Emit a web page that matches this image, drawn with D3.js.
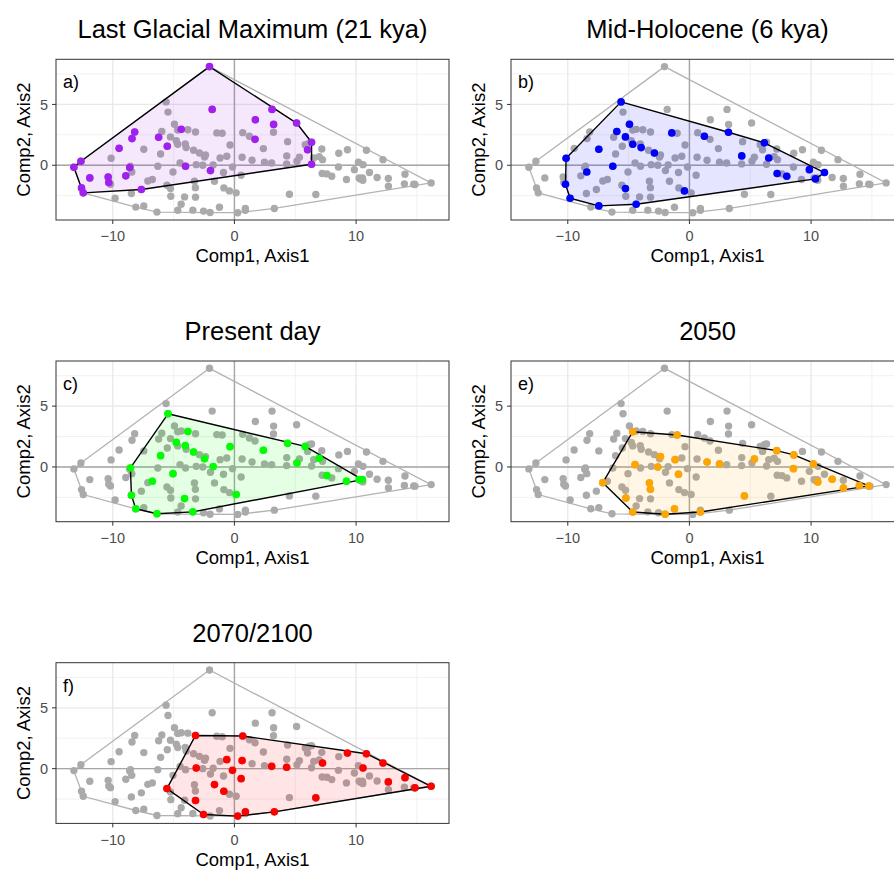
<!DOCTYPE html>
<html>
<head>
<meta charset="utf-8">
<script src="https://cdn.jsdelivr.net/npm/d3@7"></script>
<style>
  body { margin: 0; background: #fff; }
  svg { display: block; }
  text { font-family: "Liberation Sans", Arial, Helvetica, sans-serif; }
</style>
</head>
<body>
<svg id="chart" width="894" height="871"></svg>
<script>
// Site scores on the first two ordination axes, one array per period
const lgm = [
  [-2.05, 8.11], [-1.83, 4.59], [3.09, 4.59], [1.72, 3.74], [3.22, 3.36], [5.11, 3.47],
  [-4.37, 2.95], [-8.20, 2.73], [-8.42, 2.19], [-6.23, 2.30], [1.69, 2.13], [6.34, 1.89],
  [-5.52, 1.56], [-9.48, 1.39], [6.01, 1.28], [-12.62, 0.33], [-13.20, -0.16], [-4.02, -0.08],
  [-8.61, -0.19], [6.34, 0.08], [-1.97, -0.44], [-11.89, -1.04], [-10.38, -0.96], [-10.33, -1.42],
  [-8.93, -0.87], [-12.57, -1.86], [-12.43, -2.27], [-7.65, -1.99]
];
const midHolocene = [
  [-5.62, 5.21], [-4.93, 3.37], [-5.97, 2.77], [-5.26, 2.33], [-4.66, 1.73], [-3.97, 1.45],
  [-2.88, 1.01], [-7.45, 1.32], [-1.45, 2.66], [1.23, 2.38], [3.21, 2.71], [6.16, 1.84],
  [4.30, 0.77], [6.52, 0.60], [-10.14, 0.58], [-6.30, -0.08], [-8.44, -0.55], [-10.19, -1.56],
  [-9.81, -2.71], [-7.45, -3.34], [-4.38, -3.21], [-5.26, -1.92], [-0.41, -2.11], [7.21, -0.68],
  [8.00, -0.90], [9.86, -0.36], [11.10, -0.60], [10.36, -1.12]
];
const present = [
  [-5.46, 4.37], [-3.83, 2.92], [-4.78, 2.02], [-4.04, 1.75], [-3.36, 1.23], [-2.46, 0.68],
  [-1.75, 0.03], [-6.07, 0.93], [-0.36, 1.67], [2.38, 1.37], [4.37, 1.94], [5.82, 1.69],
  [6.97, 0.71], [5.14, 0.33], [-8.55, -0.08], [-5.05, -0.55], [-6.75, -1.17], [7.60, -0.71],
  [9.21, -1.17], [10.25, -1.04], [10.52, -1.04], [-8.47, -2.32], [-8.11, -3.44], [-6.37, -3.85],
  [-3.42, -3.69], [-4.10, -2.60], [0.14, -2.27]
];
const y2050 = [
  [-4.66, 2.90], [-1.01, 2.63], [7.18, 1.34], [8.58, 0.99], [10.19, 0.25], [8.55, -0.14],
  [5.34, 0.66], [1.45, 0.41], [2.47, 0.25], [-2.38, 0.85], [-1.18, 0.60], [-2.60, 0.00],
  [-4.47, 0.19], [-0.90, -0.60], [-3.29, -1.32], [-3.21, -1.84], [-7.12, -1.29], [-5.23, -2.55],
  [-4.66, -3.70], [-2.00, -3.89], [-1.23, -3.45], [0.90, -3.70], [4.52, -2.38], [10.55, -1.23],
  [11.73, -1.01], [12.66, -1.73], [13.97, -1.53], [14.74, -1.56]
];
const y2070 = [
  [-3.20, 2.73], [0.68, 2.68], [9.29, 1.28], [10.85, 1.23], [12.21, 0.46], [10.57, 0.05],
  [7.24, 0.46], [4.29, 0.11], [3.06, 0.19], [0.63, 0.66], [-0.63, 0.74], [-3.14, 0.05],
  [-0.16, -0.14], [0.55, -0.82], [-1.64, -1.31], [-0.87, -1.86], [-5.55, -1.64], [-3.20, -2.62],
  [-2.54, -3.77], [0.27, -3.90], [0.90, -3.55], [3.28, -3.55], [6.69, -2.40], [12.65, -1.09],
  [14.02, -0.74], [14.84, -1.58], [16.17, -1.45]
];

const titles = ["Last Glacial Maximum (21 kya)", "Mid-Holocene (6 kya)", "Present day", "2050", "2070/2100"];
const tags = ["a)", "b)", "c)", "e)", "f)"];
const colors = ["#A020F0", "#0000FF", "#00FF00", "#FFA500", "#FF0000"];
const xTicks = [-10, 0, 10];
const yTicks = [0, 5];
const xMinor = [-15, -5, 5, 15];
const yMinor = [-2.5, 2.5, 7.5];
const xLabel = "Comp1, Axis1";
const yLabel = "Comp2, Axis2";

const series = [lgm, midHolocene, present, y2050, y2070];
const allSites = series.flat();

// Panel geometry (fixed aspect, shared scales)
const W = 393, H = 160.7;
const origins = [[56, 59.3], [511, 59.3], [56, 361], [511, 361], [56, 662.7]];

const pad = ext => { const d = ext[1] - ext[0]; return [ext[0] - 0.05 * d, ext[1] + 0.05 * d]; };
const x = d3.scaleLinear().domain(pad(d3.extent(allSites, d => d[0]))).range([0, W]);
const y = d3.scaleLinear().domain(pad(d3.extent(allSites, d => d[1]))).range([H, 0]);
const inX = v => v >= x.domain()[0] && v <= x.domain()[1];
const inY = v => v >= y.domain()[0] && v <= y.domain()[1];

const svg = d3.select("#chart");
const hullPath = pts => "M" + d3.polygonHull(pts).map(p => [x(p[0]), y(p[1])].join(",")).join("L") + "Z";
const allHull = hullPath(allSites);

series.forEach((pts, i) => {
  const g = svg.append("g").attr("transform", `translate(${origins[i][0]},${origins[i][1]})`);

  g.append("rect").attr("width", W).attr("height", H).attr("fill", "#fff");

  // grid
  g.selectAll(".minx").data(xMinor.filter(inX)).join("line")
    .attr("x1", d => x(d)).attr("x2", d => x(d)).attr("y1", 0).attr("y2", H)
    .attr("stroke", "#ebebeb").attr("stroke-width", 0.7);
  g.selectAll(".miny").data(yMinor.filter(inY)).join("line")
    .attr("y1", d => y(d)).attr("y2", d => y(d)).attr("x1", 0).attr("x2", W)
    .attr("stroke", "#ebebeb").attr("stroke-width", 0.7);
  g.selectAll(".majx").data(xTicks).join("line")
    .attr("x1", d => x(d)).attr("x2", d => x(d)).attr("y1", 0).attr("y2", H)
    .attr("stroke", "#e8e8e8").attr("stroke-width", 1.3);
  g.selectAll(".majy").data(yTicks).join("line")
    .attr("y1", d => y(d)).attr("y2", d => y(d)).attr("x1", 0).attr("x2", W)
    .attr("stroke", "#e8e8e8").attr("stroke-width", 1.3);

  // reference lines through the origin
  g.append("line").attr("x1", x(0)).attr("x2", x(0)).attr("y1", 0).attr("y2", H)
    .attr("stroke", "#a6a6a6").attr("stroke-width", 1.4);
  g.append("line").attr("y1", y(0)).attr("y2", y(0)).attr("x1", 0).attr("x2", W)
    .attr("stroke", "#a6a6a6").attr("stroke-width", 1.4);

  // envelope of all sites
  g.append("path").attr("d", allHull).attr("fill", "none")
    .attr("stroke", "#b3b3b3").attr("stroke-width", 1.3);
  g.selectAll(".all").data(allSites).join("circle")
    .attr("cx", d => x(d[0])).attr("cy", d => y(d[1])).attr("r", 3.7)
    .attr("fill", "#aaaaaa");

  // envelope of this period
  g.append("path").attr("d", hullPath(pts))
    .attr("fill", colors[i]).attr("fill-opacity", 0.1)
    .attr("stroke", "#000").attr("stroke-width", 1.4).attr("stroke-linejoin", "round");
  g.selectAll(".pt").data(pts).join("circle")
    .attr("cx", d => x(d[0])).attr("cy", d => y(d[1])).attr("r", 3.8)
    .attr("fill", colors[i]);

  g.append("rect").attr("width", W).attr("height", H)
    .attr("fill", "none").attr("stroke", "#333").attr("stroke-width", 1);

  // axes
  const xa = g.append("g");
  xa.selectAll("line").data(xTicks).join("line")
    .attr("x1", d => x(d)).attr("x2", d => x(d)).attr("y1", H).attr("y2", H + 4)
    .attr("stroke", "#333").attr("stroke-width", 1);
  xa.selectAll("text").data(xTicks).join("text")
    .attr("x", d => x(d)).attr("y", H + 21.5).attr("text-anchor", "middle")
    .attr("font-size", 14.5).attr("fill", "#4d4d4d")
    .text(d => d < 0 ? "\u2212" + Math.abs(d) : d);
  const ya = g.append("g");
  ya.selectAll("line").data(yTicks).join("line")
    .attr("y1", d => y(d)).attr("y2", d => y(d)).attr("x1", -4).attr("x2", 0)
    .attr("stroke", "#333").attr("stroke-width", 1);
  ya.selectAll("text").data(yTicks).join("text")
    .attr("x", -8).attr("y", d => y(d)).attr("dy", "0.35em").attr("text-anchor", "end")
    .attr("font-size", 14.5).attr("fill", "#4d4d4d").text(d => d);

  g.append("text").attr("x", W / 2).attr("y", H + 42.5).attr("text-anchor", "middle")
    .attr("font-size", 18.5).attr("fill", "#000").text(xLabel);
  g.append("text").attr("transform", `translate(-26,${H / 2}) rotate(-90)`)
    .attr("text-anchor", "middle").attr("font-size", 18.5).attr("fill", "#000").text(yLabel);

  g.append("text").attr("x", 7).attr("y", 29).attr("font-size", 18).attr("fill", "#000").text(tags[i]);
  g.append("text").attr("x", W / 2).attr("y", -21).attr("text-anchor", "middle")
    .attr("font-size", 25.5).attr("fill", "#000").text(titles[i]);
});
</script>
</body>
</html>
